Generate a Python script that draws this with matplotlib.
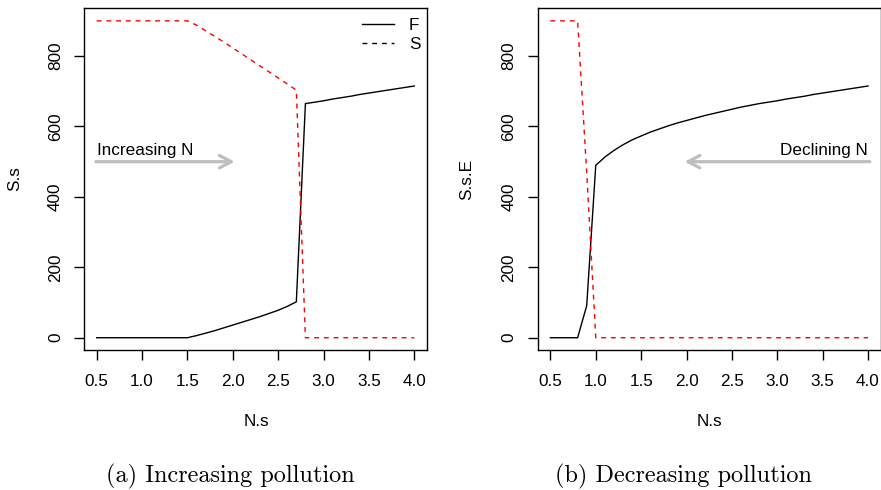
import matplotlib
matplotlib.use("Agg")
import matplotlib.pyplot as plt

plt.rcParams['font.family'] = ['Liberation Sans', 'DejaVu Sans']

# nitrogen levels (x axis, both panels)
N_s = [0.5, 0.6, 0.7, 0.8, 0.9, 1.0, 1.1, 1.2, 1.3, 1.4, 1.5, 1.6,
       1.7, 1.8, 1.9, 2.0, 2.1, 2.2, 2.3, 2.4, 2.5, 2.6, 2.7, 2.8,
       2.9, 3.0, 3.1, 3.2, 3.3, 3.4, 3.5, 3.6, 3.7, 3.8, 3.9, 4.0]

# (a) increasing pollution
F_inc = [0, 0, 0, 0, 0, 0, 0, 0, 0, 0, 0, 6,
         13, 20, 28, 36, 44, 52, 60, 69, 78, 89, 102, 665,
         669, 673, 678, 682, 686, 691, 695, 699, 703, 707, 711, 715]
S_inc = [900, 900, 900, 900, 900, 900, 900, 900, 900, 900, 900, 888,
         872, 856, 840, 823, 806, 789, 772, 755, 738, 721, 703, 0,
         0, 0, 0, 0, 0, 0, 0, 0, 0, 0, 0, 0]

# (b) decreasing pollution
F_dec = [0, 0, 0, 0, 91, 490, 513, 532, 548, 562, 573, 584,
         593, 602, 610, 617, 624, 631, 637, 643, 649, 655, 660, 665,
         669, 673, 678, 682, 686, 691, 695, 699, 703, 707, 711, 715]
S_dec = [900, 900, 900, 900, 470, 0, 0, 0, 0, 0, 0, 0,
         0, 0, 0, 0, 0, 0, 0, 0, 0, 0, 0, 0,
         0, 0, 0, 0, 0, 0, 0, 0, 0, 0, 0, 0]

xticks = [0.5, 1.0, 1.5, 2.0, 2.5, 3.0, 3.5, 4.0]
yticks = [0, 200, 400, 600, 800]

W, H = 881, 490
fig = plt.figure(figsize=(W / 100, H / 100), dpi=100)
ax1 = fig.add_axes([84 / W, 1 - 350.4 / H, 343 / W, 342.2 / H])
ax2 = fig.add_axes([537.7 / W, 1 - 350.4 / H, 343 / W, 342.2 / H])


def style(ax):
    ax.set_xlim(0.36, 4.14)
    ax.set_ylim(-36, 936)
    ax.set_xticks(xticks)
    ax.set_xticklabels(['%.1f' % v for v in xticks])
    ax.set_yticks(yticks)
    ax.set_yticklabels([str(v) for v in yticks])
    ax.tick_params(axis='both', direction='out', length=7.2, width=1,
                   labelsize=12.3, colors='black')
    ax.tick_params(axis='x', pad=10)
    ax.tick_params(axis='y', pad=8, labelrotation=90)
    for t in ax.get_yticklabels():
        t.set_va('center')
    for s in ax.spines.values():
        s.set_linewidth(1)
        s.set_color('black')


arrow_kw = dict(arrowstyle='->,head_length=0.85,head_width=0.45',
                color='#bebebe', lw=2.3, shrinkA=0, shrinkB=0)

# panel (a)
ax1.plot(N_s, F_inc, color='black', lw=1, label='F')
ax1.plot(N_s, S_inc, color='red', lw=1, dashes=(3.5, 3.5))
ax1.plot([], [], color='black', lw=1, dashes=(3.5, 3.5), label='S')
style(ax1)
ax1.annotate('', xy=(2.02, 500), xytext=(0.49, 500), arrowprops=arrow_kw)
ax1.text(0.5, 518, 'Increasing N', fontsize=12.3, ha='left', va='baseline')
ax1.legend(loc='upper left', bbox_to_anchor=(0.81, 0.972), frameon=False,
           fontsize=12.3, borderpad=0, borderaxespad=0, handlelength=1.86,
           handletextpad=0.9, labelspacing=0.25)

# panel (b)
ax2.plot(N_s, F_dec, color='black', lw=1)
ax2.plot(N_s, S_dec, color='red', lw=1, dashes=(3.5, 3.5))
style(ax2)
ax2.annotate('', xy=(1.98, 500), xytext=(4.02, 500), arrowprops=arrow_kw)
ax2.text(4.0, 518, 'Declining N', fontsize=12.3, ha='right', va='baseline')

# axis labels
fig.text(15 / W, 1 - 179 / H, 'S.s', rotation=90, fontsize=12.3,
         ha='center', va='center')
fig.text(467 / W, 1 - 179 / H, 'S.s.E', rotation=90, fontsize=12.3,
         ha='center', va='center')
fig.text(256 / W, 1 - 421.7 / H, 'N.s', fontsize=12.3, ha='center', va='center')
fig.text(709 / W, 1 - 421.7 / H, 'N.s', fontsize=12.3, ha='center', va='center')

# sub-figure captions
fig.text(106 / W, 1 - 476 / H, '(a) Increasing pollution', family='cmr10',
         fontsize=17.5, ha='left', va='center')
fig.text(555 / W, 1 - 476 / H, '(b) Decreasing pollution', family='cmr10',
         fontsize=17.5, ha='left', va='center')

fig.savefig('out.png', dpi=100)
